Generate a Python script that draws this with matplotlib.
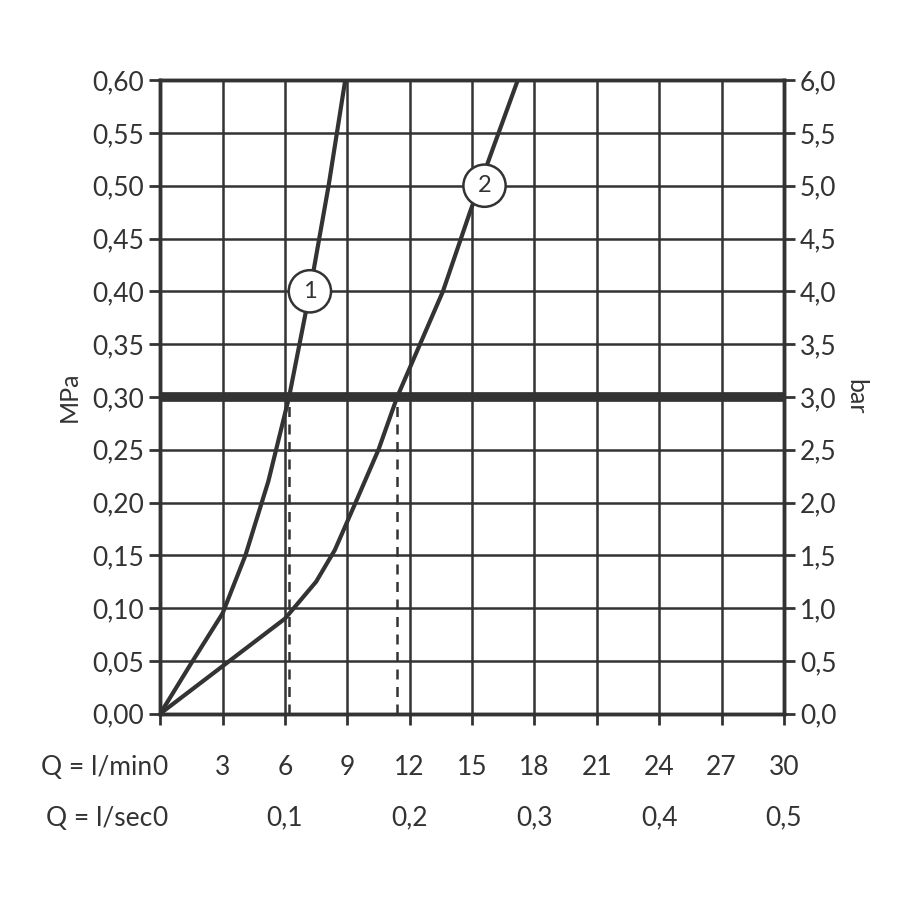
import matplotlib.pyplot as plt

plt.rcParams['font.family'] = ['Lato', 'DejaVu Sans']

# flow (l/min) vs pressure (MPa)
q1 = [0, 1.5, 3.0, 4.1, 5.2, 6.2, 7.2, 8.1, 8.9]
p1 = [0, 0.048, 0.095, 0.15, 0.22, 0.30, 0.40, 0.50, 0.60]
q2 = [0, 3.0, 6.0, 7.5, 8.4, 9.4, 10.5, 11.4, 12.5, 13.6, 14.9, 16.0, 17.2]
p2 = [0, 0.045, 0.09, 0.125, 0.155, 0.20, 0.25, 0.30, 0.35, 0.40, 0.475, 0.535, 0.60]
dash_q = [6.2, 11.4]
labels = [('1', 7.2, 0.40), ('2', 15.6, 0.50)]
lmin_ticks = list(range(0, 31, 3))
lsec_pos = [0, 6, 12, 18, 24, 30]
lsec_labels = ['0', '0,1', '0,2', '0,3', '0,4', '0,5']
mpa_ticks = [i * 0.05 for i in range(13)]

col = '#333333'
fig = plt.figure(figsize=(9, 9), dpi=100)
ax = fig.add_axes([0.178, 0.207, 0.693, 0.704])
ax.set_xlim(0, 30)
ax.set_ylim(0, 0.6)
for x in lmin_ticks:
    ax.axvline(x, color=col, lw=1.8, zorder=1)
for y in mpa_ticks:
    ax.axhline(y, color=col, lw=1.8, zorder=1)
ax.axhline(0.30, color=col, lw=7, zorder=2)
for q in dash_q:
    ax.plot([q, q], [0, 0.30], color=col, lw=1.8, ls=(0, (4, 3)), zorder=2)
ax.plot(q1, p1, color=col, lw=3, zorder=3)
ax.plot(q2, p2, color=col, lw=3, zorder=3)
for t, x, y in labels:
    ax.text(x, y, t, fontsize=17, ha='center', va='center', color=col, zorder=4,
            bbox=dict(boxstyle='circle,pad=0.45', fc='white', ec=col, lw=1.8))
for s in ax.spines.values():
    s.set_color(col)
    s.set_linewidth(2.5)

ax.set_yticks(mpa_ticks)
ax.set_yticklabels([f'{v:.2f}'.replace('.', ',') for v in mpa_ticks])
ax.set_xticks(lmin_ticks)
ax.set_xticklabels([])
ax.tick_params(axis='both', direction='out', length=8, width=2, color=col,
               labelsize=19, labelcolor=col)
ax.set_ylabel('MPa', fontsize=18, color=col, labelpad=8)

ax2 = ax.twinx()
ax2.set_ylim(0, 6)
ax2.set_yticks([i * 0.5 for i in range(13)])
ax2.set_yticklabels([f'{i * 0.5:.1f}'.replace('.', ',') for i in range(13)])
ax2.tick_params(axis='y', direction='out', length=8, width=2, color=col,
                labelsize=19, labelcolor=col)
ax2.set_ylabel('bar', fontsize=18, color=col, rotation=270, labelpad=22)
for s in ax2.spines.values():
    s.set_color(col)
    s.set_linewidth(2.5)

tr = ax.get_xaxis_transform()
for x in lmin_ticks:
    ax.text(x, -0.085, str(x), transform=tr, ha='center', va='center', fontsize=19, color=col)
for x, l in zip(lsec_pos, lsec_labels):
    ax.text(x, -0.165, l, transform=tr, ha='center', va='center', fontsize=19, color=col)
ax.text(-0.4, -0.085, 'Q = l/min', transform=tr, ha='right', va='center', fontsize=19, color=col)
ax.text(-0.4, -0.165, 'Q = l/sec', transform=tr, ha='right', va='center', fontsize=19, color=col)

fig.savefig('out.png', dpi=100)
